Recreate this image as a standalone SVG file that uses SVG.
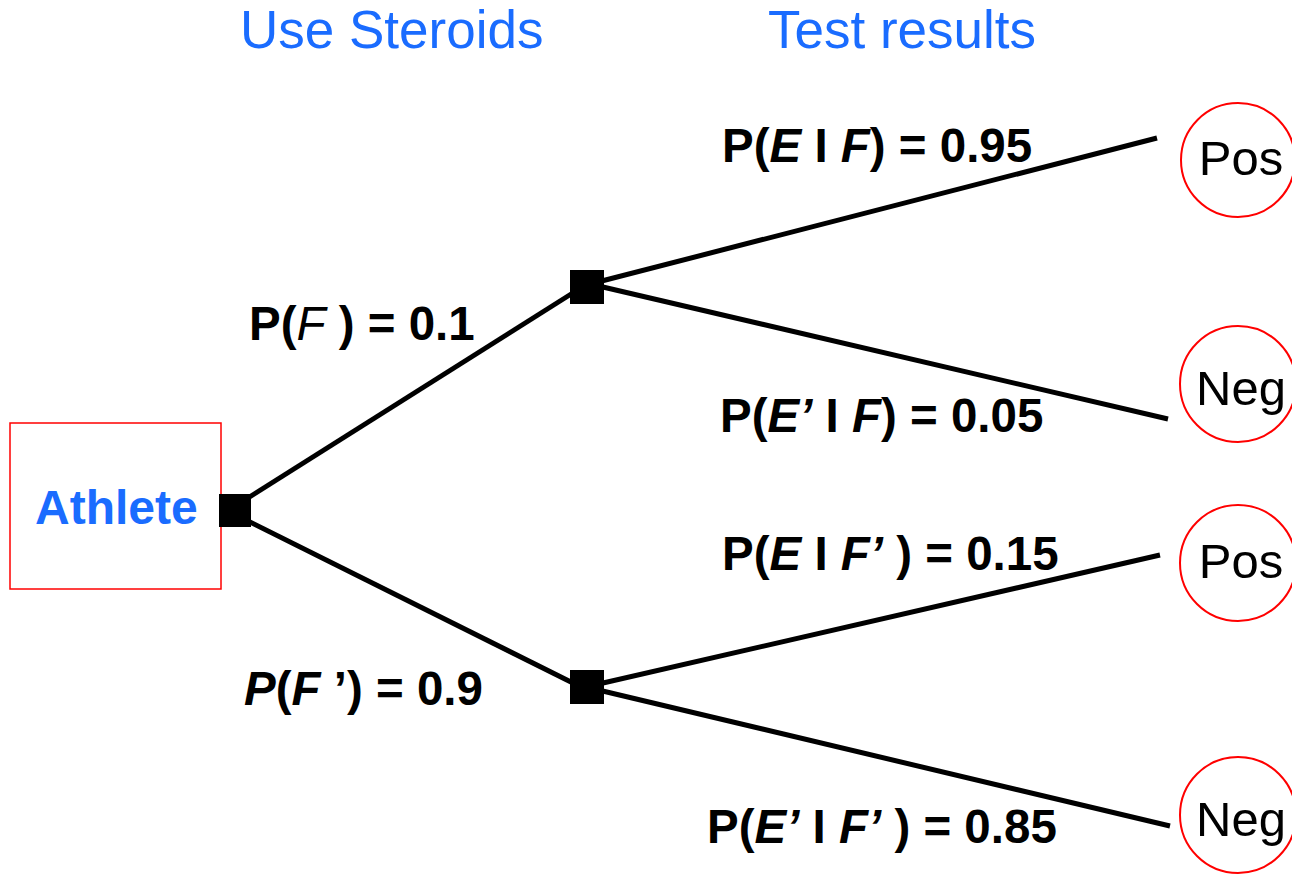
<svg xmlns="http://www.w3.org/2000/svg" width="1292" height="878" viewBox="0 0 1292 878">
<style>
.hdr{font-family:"Liberation Sans",Arial,sans-serif;font-size:53px;fill:#1a6cff}
.lbl{font-family:"Liberation Sans",Arial,sans-serif;font-size:47.5px;font-weight:bold;fill:#000}
.it{font-style:italic}
.nt{font-style:italic;font-weight:normal}
.leaf{fill:#fff;stroke:#ff0000;stroke-width:2}
.leaftxt{font-family:"Liberation Sans",Arial,sans-serif;font-size:49px;fill:#000;text-anchor:middle}
.edge{stroke:#000;stroke-width:5;fill:none}
.sq{fill:#000}
</style>
<rect width="1292" height="878" fill="#fff"/>
<text class="hdr" x="240" y="48">Use Steroids</text>
<text class="hdr" x="768" y="48">Test results</text>
<g id="connectors">
<line class="edge" x1="240" y1="503" x2="587" y2="284"/>
<line class="edge" x1="240" y1="517" x2="587" y2="690"/>
<line class="edge" x1="590" y1="284" x2="1157" y2="138"/>
<line class="edge" x1="590" y1="284" x2="1168" y2="419"/>
<line class="edge" x1="590" y1="686" x2="1160" y2="555"/>
<line class="edge" x1="590" y1="688" x2="1170" y2="826"/>
</g>
<g id="athlete">
<rect x="10" y="423" width="211" height="166" fill="#fff" stroke="#ff0000" stroke-width="1.5"/>
<text x="35" y="524" font-family="Liberation Sans, Arial, sans-serif" font-size="48" font-weight="bold" fill="#1a6cff">Athlete</text>
<rect class="sq" x="219" y="494" width="32" height="33"/>
</g>
<g id="node-f"><rect class="sq" x="570" y="270" width="34" height="34"/></g>
<g id="node-fp"><rect class="sq" x="570" y="670" width="34" height="34"/></g>
<g id="pos1"><circle class="leaf" cx="1238" cy="160" r="57"/><text class="leaftxt" x="1241" y="175">Pos</text></g>
<g id="neg1"><circle class="leaf" cx="1238" cy="384" r="58"/><text class="leaftxt" x="1241" y="405">Neg</text></g>
<g id="pos2"><circle class="leaf" cx="1238" cy="563" r="58"/><text class="leaftxt" x="1241" y="578">Pos</text></g>
<g id="neg2"><circle class="leaf" cx="1238" cy="815" r="58"/><text class="leaftxt" x="1241" y="836">Neg</text></g>
<g id="labels">
<text class="lbl" x="249" y="340">P(<tspan class="nt">F</tspan> ) = 0.1</text>
<text class="lbl" x="244" y="705"><tspan class="it">P</tspan>(<tspan class="it">F</tspan> ’) = 0.9</text>
<text class="lbl" x="722" y="162">P(<tspan class="it">E</tspan> I <tspan class="it">F</tspan>) = 0.95</text>
<text class="lbl" x="720" y="432">P(<tspan class="it">E’</tspan> I <tspan class="it">F</tspan>) = 0.05</text>
<text class="lbl" x="722" y="570">P(<tspan class="it">E</tspan> I <tspan class="it">F’</tspan> ) = 0.15</text>
<text class="lbl" x="707" y="843">P(<tspan class="it">E’</tspan> I <tspan class="it">F’</tspan> ) = 0.85</text>
</g>
</svg>
